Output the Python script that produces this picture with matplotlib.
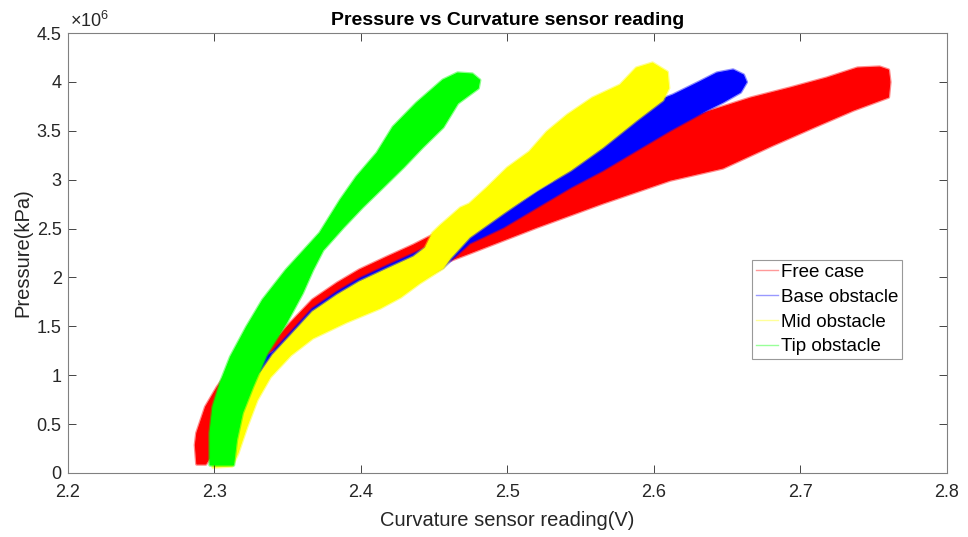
import matplotlib
matplotlib.use('Agg')
import matplotlib.pyplot as plt
from matplotlib.lines import Line2D
from matplotlib.ticker import FuncFormatter
import numpy as np

plt.rcParams['font.family'] = ['Liberation Sans', 'DejaVu Sans']
plt.rcParams['mathtext.fontset'] = 'custom'
plt.rcParams['mathtext.rm'] = 'Liberation Sans'

# Outlines of each noisy data band: curvature sensor reading (V) and pressure (x10^6)
free_x = [2.288, 2.287, 2.288, 2.294, 2.302, 2.309, 2.324, 2.340, 2.352, 2.367, 2.384, 2.399,
          2.418, 2.436, 2.452, 2.486, 2.522, 2.563, 2.604, 2.636, 2.666, 2.693, 2.718, 2.739,
          2.754, 2.760, 2.761, 2.760, 2.736, 2.709, 2.681, 2.647, 2.611, 2.565, 2.520,
          2.474, 2.456, 2.440, 2.413, 2.386, 2.358, 2.338, 2.324, 2.314, 2.305,
          2.298, 2.294]
free_p = [0.092, 0.286, 0.409, 0.675, 0.879, 1.022, 1.207, 1.329, 1.534, 1.769, 1.943, 2.076,
          2.209, 2.331, 2.454, 2.536, 2.791, 3.119, 3.507, 3.691, 3.834, 3.937, 4.039, 4.141,
          4.151, 4.121, 3.998, 3.845, 3.712, 3.538, 3.354, 3.120, 2.996, 2.761, 2.515,
          2.249, 2.147, 1.994, 1.789, 1.626, 1.442, 1.237, 1.002, 0.746, 0.440,
          0.184, 0.092]

base_x = [2.298, 2.299, 2.302, 2.309, 2.321, 2.340, 2.352, 2.367, 2.384, 2.399, 2.418, 2.436,
          2.452, 2.486, 2.495, 2.531, 2.565, 2.588, 2.604, 2.613, 2.631, 2.643, 2.654, 2.661,
          2.663, 2.659, 2.647, 2.636, 2.611, 2.588, 2.565, 2.543, 2.520, 2.497, 2.474, 2.456,
          2.440, 2.413, 2.386, 2.358, 2.338, 2.324, 2.316, 2.312, 2.309]
base_p = [0.102, 0.337, 0.542, 0.798, 1.033, 1.237, 1.431, 1.677, 1.851, 1.984, 2.117, 2.239,
          2.352, 2.536, 2.638, 2.975, 3.405, 3.661, 3.814, 3.865, 3.998, 4.090, 4.121, 4.070,
          3.998, 3.896, 3.793, 3.712, 3.507, 3.303, 3.098, 2.924, 2.720, 2.515, 2.352, 2.106,
          1.973, 1.738, 1.585, 1.401, 1.155, 0.900, 0.542, 0.235, 0.102]

mid_x = [2.299, 2.300, 2.304, 2.312, 2.323, 2.332, 2.340, 2.352, 2.367, 2.384, 2.399, 2.418,
         2.436, 2.444, 2.449, 2.454, 2.468, 2.474, 2.486, 2.500, 2.515, 2.527, 2.541, 2.558,
         2.577, 2.588, 2.599, 2.609, 2.610, 2.606, 2.588, 2.565, 2.543, 2.520, 2.497, 2.474,
         2.461, 2.456, 2.440, 2.427, 2.413, 2.390, 2.367, 2.352, 2.338, 2.329, 2.322, 2.316,
         2.312]
mid_p = [0.061, 0.337, 0.542, 0.746, 0.920, 1.033, 1.207, 1.401, 1.646, 1.820, 1.953, 2.086,
         2.209, 2.301, 2.454, 2.526, 2.710, 2.750, 2.914, 3.119, 3.282, 3.487, 3.661, 3.834,
         3.967, 4.141, 4.192, 4.100, 3.937, 3.814, 3.609, 3.333, 3.098, 2.894, 2.658, 2.413,
         2.200, 2.096, 1.943, 1.800, 1.687, 1.544, 1.380, 1.207, 0.982, 0.746, 0.470, 0.204,
         0.072]

tip_x = [2.297, 2.297, 2.299, 2.304, 2.311, 2.322, 2.333, 2.349, 2.372, 2.386, 2.397, 2.411,
         2.422, 2.438, 2.456, 2.466, 2.476, 2.481, 2.480, 2.466, 2.456, 2.442, 2.429, 2.415,
         2.401, 2.388, 2.374, 2.367, 2.360, 2.349, 2.336, 2.326, 2.319, 2.315, 2.313]
tip_p = [0.082, 0.409, 0.675, 0.920, 1.186, 1.493, 1.769, 2.076, 2.454, 2.791, 3.027, 3.272,
         3.538, 3.783, 4.018, 4.090, 4.080, 4.018, 3.937, 3.783, 3.538, 3.333, 3.129, 2.924,
         2.720, 2.515, 2.280, 2.076, 1.840, 1.534, 1.227, 0.879, 0.613, 0.337, 0.082]

labels = ['Free case', 'Base obstacle', 'Mid obstacle', 'Tip obstacle']
colors = ['#ff0000', '#0000ff', '#ffff00', '#00ff00']
xs = [free_x, base_x, mid_x, tip_x]
ps = [free_p, base_p, mid_p, tip_p]

x_ticks = [2.2, 2.3, 2.4, 2.5, 2.6, 2.7, 2.8]
y_ticks = [0, 0.5, 1, 1.5, 2, 2.5, 3, 3.5, 4, 4.5]

fig = plt.figure(figsize=(9.68, 5.37), dpi=100)
ax = fig.add_axes([0.0702, 0.1192, 0.9081, 0.8193])

for x, p, c in zip(xs, ps, colors):
    x = np.array(x)
    p = np.array(p)
    # soft fringe imitating the noisy edge of the many overlapping traces
    ax.fill(x, p, facecolor='none', edgecolor=c, linewidth=2.6, alpha=0.45,
            joinstyle='round')
    ax.fill(x, p, facecolor=c, edgecolor=c, linewidth=0.8)

ax.set_xlim(2.2, 2.8)
ax.set_ylim(0, 4.5)
ax.set_xticks(x_ticks)
ax.set_yticks(y_ticks)
fmt = FuncFormatter(lambda v, pos: f'{v:g}')
ax.xaxis.set_major_formatter(fmt)
ax.yaxis.set_major_formatter(fmt)
ax.tick_params(direction='in', top=True, right=True, length=6, width=0.6,
               colors='0.15', labelsize=13)
ax.tick_params(axis='x', pad=8)
ax.tick_params(axis='y', pad=4.5)
for s in ax.spines.values():
    s.set_color('0.5')
    s.set_linewidth(0.8)

ax.text(0.002, 1.004, r'$\mathregular{\times10^{6}}$', transform=ax.transAxes,
        ha='left', va='bottom', fontsize=13, color='0.15')
ax.set_title('Pressure vs Curvature sensor reading', fontweight='bold', fontsize=14,
             pad=6, color='black')
ax.set_xlabel('Curvature sensor reading(V)', fontsize=14.5, color='0.15', labelpad=7)
ax.set_ylabel('Pressure(kPa)', fontsize=14.5, color='0.15', labelpad=3)

handles = [Line2D([0], [0], color=c, lw=1.0, alpha=0.4) for c in colors]
leg = ax.legend(handles, labels, loc='upper left', bbox_to_anchor=(0.778, 0.484),
                frameon=True, fancybox=False, edgecolor='0.6', framealpha=1,
                fontsize=13.5, handlelength=1.2, handletextpad=0.15, borderpad=0.2,
                labelspacing=0.41, borderaxespad=0)
leg.get_frame().set_linewidth(0.8)

fig.savefig('out.png', dpi=100, facecolor='white')
